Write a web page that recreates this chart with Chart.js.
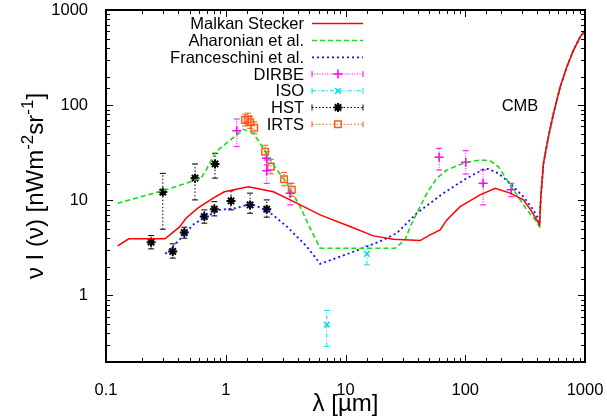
<!DOCTYPE html>
<html><head><meta charset="utf-8">
<script src="https://cdn.jsdelivr.net/npm/chart.js@4.4.0/dist/chart.umd.min.js"></script>
<style>html,body{margin:0;padding:0;background:#fff}#wrap{position:relative;width:607px;height:420px}#box{position:absolute;left:105px;top:9px;width:481px;height:354px;box-sizing:border-box;border:2px solid #000;pointer-events:none}</style>
</head><body>
<div id="wrap"><canvas id="c" width="607" height="420"></canvas><div id="box"></div></div>
<script>
// ---- data (wavelength in micron, nu I_nu in nW m^-2 sr^-1) ----
const xTickLabels = ['0.1', '1', '10', '100', '1000'];
const yTickLabels = ['1', '10', '100', '1000'];
const xRange = [0.1, 1000];
const yRange = [0.2, 1000];

const cmbX = [428, 450, 495, 546, 621, 706, 802, 912, 1000];
const cmbY = [10.9, 24.5, 46.6, 82.0, 156, 253, 379, 522, 604];

const malkanX = [0.125, 0.155, 0.311, 0.41, 0.466, 0.584, 0.779, 0.973, 1.545, 2.50, 3.92, 6.14, 10.9, 17.1, 25.1, 42.0, 50.9, 61.7, 70.2, 90.6, 133, 178, 237, 306, 360, 417];
const malkanY = [3.32, 3.94, 3.94, 5.22, 6.49, 8.26, 10.5, 12.3, 13.9, 12.3, 9.33, 7.03, 5.30, 4.23, 3.91, 3.78, 4.33, 4.89, 6.23, 8.59, 11.4, 13.4, 11.9, 10.1, 7.61, 5.52];

const aharX = [0.125, 0.298, 0.466, 0.622, 0.684, 0.830, 1.006, 1.236, 1.403, 1.70, 2.06, 2.50, 3.24, 4.18, 5.06, 6.14, 25.9, 31.5, 34.7, 40.7, 47.8, 57.9, 70.2, 87.7, 103, 133, 161, 189, 223, 270, 327, 384, 417];
const aharY = [9.32, 12.6, 15.1, 17.1, 20.8, 32.4, 39.7, 48.5, 55.7, 50.6, 35.2, 23.5, 15.1, 8.59, 5.10, 3.14, 3.14, 3.84, 5.30, 7.93, 11.9, 17.1, 20.8, 23.5, 25.1, 26.5, 26.1, 22.6, 16.4, 11.4, 7.93, 6.23, 5.30];

const franX = [0.313, 0.437, 0.530, 0.684, 0.885, 1.219, 1.596, 2.20, 3.24, 4.75, 6.14, 10.9, 15.1, 20.7, 26.8, 32.5, 39.4, 50.9, 65.8, 79.8, 103, 142, 156, 189, 237, 306, 371, 417];
const franY = [2.74, 4.16, 5.52, 6.75, 7.93, 8.26, 9.17, 7.93, 5.30, 3.27, 2.15, 2.79, 3.27, 3.84, 4.52, 5.75, 7.32, 9.33, 11.9, 13.9, 17.1, 21.2, 21.4, 19.2, 15.1, 10.9, 7.93, 5.98];

const dirbeX  = [1.236, 2.2, 2.2, 3.45, 60.5, 101, 141, 242];
const dirbeY  = [53.9, 27.7, 20.5, 11.9, 28.3, 25.1, 15.1, 12.9];
const dirbeLo = [36.6, 23.5, 15.1, 8.95, 20.8, 18.9, 8.95, 10.9];
const dirbeHi = [71.5, 32.4, 26.5, 15.1, 35.2, 33.2, 20.8, 15.1];

const isoX  = [6.98, 15.1];
const isoY  = [0.493, 2.74];
const isoLo = [0.292, 2.10];
const isoHi = [0.696, 3.32];

const hstX  = [0.238, 0.298, 0.361, 0.451, 0.554, 0.662, 0.803, 0.814, 1.107, 1.596, 2.20];
const hstY  = [3.63, 12.2, 2.90, 4.58, 17.1, 6.75, 8.07, 24.1, 9.86, 8.95, 8.07];
const hstLo = [3.09, 4.97, 2.47, 4.00, 10.1, 5.75, 6.86, 17.1, 7.93, 7.32, 6.65];
const hstHi = [4.26, 19.2, 3.49, 5.22, 24.1, 7.93, 9.69, 31.2, 12.6, 11.9, 10.1];

const irtsX  = [1.45, 1.53, 1.60, 1.73, 2.13, 2.38, 3.07, 3.56];
const irtsY  = [69.8, 71.3, 66.0, 57.8, 32.4, 22.6, 16.7, 12.9];
const irtsLo = [60.5, 61.7, 57.0, 50.0, 27.7, 19.0, 14.2, 11.0];
const irtsHi = [80.5, 82.4, 76.3, 66.8, 37.9, 26.9, 19.6, 15.1];

// ---- helpers ----
const pts = (xs, ys) => xs.map((x, i) => ({x: x, y: ys[i]}));
const FONT = '"Liberation Sans", Arial, Helvetica, sans-serif';
function isPow10(v){ const l = Math.log10(v); return Math.abs(l - Math.round(l)) < 1e-6; }

const COL = {red:'#ff0000', green:'#18dc18', blue:'#1010ff', mag:'#ff00ff', cyan:'#00dde8', black:'#000000', orange:'#ff5a1a'};

// frame outline built from the axis limits
const framePts = [
  {x:xRange[0], y:yRange[0]}, {x:xRange[1], y:yRange[0]},
  {x:xRange[1], y:yRange[1]}, {x:xRange[0], y:yRange[1]}, {x:xRange[0], y:yRange[0]}
];

const datasets = [
  {label:'Malkan Stecker', data: pts(malkanX.concat(cmbX), malkanY.concat(cmbY)), showLine:true, borderColor:COL.red, borderWidth:1.5, pointRadius:0, _dash:[], _key:true},
  {label:'Aharonian et al.', data: pts(aharX.concat(cmbX), aharY.concat(cmbY)), showLine:true, borderColor:COL.green, borderWidth:1.6, borderDash:[5,3], pointRadius:0, _dash:[5,3], _key:true},
  {label:'Franceschini et al.', data: pts(franX.concat(cmbX), franY.concat(cmbY)), showLine:true, borderColor:COL.blue, borderWidth:1.8, borderDash:[2,3], pointRadius:0, _dash:[2,3], _key:true},
  {label:'DIRBE', data: pts(dirbeX, dirbeY), errLo: dirbeLo, errHi: dirbeHi, showLine:false, borderColor:COL.mag, backgroundColor:COL.mag, pointStyle:'cross', pointRadius:4.5, borderWidth:1.5, _dash:[1,1.5], _key:true},
  {label:'ISO', data: pts(isoX, isoY), errLo: isoLo, errHi: isoHi, showLine:false, borderColor:COL.cyan, backgroundColor:COL.cyan, pointStyle:'crossRot', pointRadius:4, borderWidth:1.5, _dash:[4,2,1,2], _key:true},
  {label:'HST', data: pts(hstX, hstY), errLo: hstLo, errHi: hstHi, showLine:false, borderColor:COL.black, backgroundColor:COL.black, pointStyle:'star', pointRadius:4.5, borderWidth:2, _dash:[1.5,2], _key:true},
  {label:'IRTS', data: pts(irtsX, irtsY), errLo: irtsLo, errHi: irtsHi, showLine:false, borderColor:COL.orange, backgroundColor:'rgba(0,0,0,0)', pointStyle:'rect', pointRadius:4.6, borderWidth:1.5, _dash:[1.5,2], _key:true},
  {label:'frame', data: framePts, showLine:true, borderColor:'#000', borderWidth:2, pointRadius:0, clip:false, _key:false}
];

// error bars drawn through the scales
const errorBars = {
  id:'errorBars',
  beforeDatasetsDraw(chart){
    const ctx = chart.ctx, xs = chart.scales.x, ys = chart.scales.y;
    chart.data.datasets.forEach(ds => {
      if (!ds.errLo) return;
      ctx.save();
      ctx.strokeStyle = ds.borderColor; ctx.lineWidth = 1;
      ds.data.forEach((p, i) => {
        const px = xs.getPixelForValue(p.x);
        const yl = ys.getPixelForValue(ds.errLo[i]);
        const yh = ys.getPixelForValue(ds.errHi[i]);
        ctx.setLineDash(ds._dash);
        ctx.beginPath(); ctx.moveTo(px, yl); ctx.lineTo(px, yh); ctx.stroke();
        ctx.setLineDash([]);
        ctx.beginPath();
        ctx.moveTo(px-3, yl); ctx.lineTo(px+3, yl);
        ctx.moveTo(px-3, yh); ctx.lineTo(px+3, yh);
        ctx.stroke();
      });
      ctx.restore();
    });
  }
};

// titles, legend, label, inward ticks
const decor = {
  id:'decor',
  afterDraw(chart){
    const ctx = chart.ctx, a = chart.chartArea;
    ctx.save();
    ctx.setLineDash([]);
    ctx.fillStyle = '#000';
    ctx.font = '24px ' + FONT;
    ctx.textAlign = 'center'; ctx.textBaseline = 'alphabetic';
    ctx.fillText('\u03bb [\u00b5m]', (a.left + a.right)/2, 411);

    const parts = [['\u03bd I (\u03bd) [nWm', 0], ['-2', 1], ['sr', 0], ['-1', 1], [']', 0]];
    const big = '24px ' + FONT, small = '17px ' + FONT;
    let total = 0;
    parts.forEach(p => { ctx.font = p[1] ? small : big; total += ctx.measureText(p[0]).width; });
    ctx.save();
    ctx.translate(43, (a.top + a.bottom)/2);
    ctx.rotate(-Math.PI/2);
    ctx.textAlign = 'left';
    let cx = -total/2;
    parts.forEach(p => {
      ctx.font = p[1] ? small : big;
      ctx.fillText(p[0], cx, p[1] ? -10 : 0);
      cx += ctx.measureText(p[0]).width;
    });
    ctx.restore();

    ctx.font = '16.5px ' + FONT;
    ctx.textAlign = 'center'; ctx.textBaseline = 'middle'; ctx.fillStyle = '#000';
    ctx.fillText('CMB', 520, 106);

    const rowY = [23.5, 40.5, 57.3, 74, 90.8, 107.5, 124.3];
    const tx = 304, l0 = 312, l1 = 363, mid = 338;
    chart.data.datasets.filter(ds => ds._key).forEach((ds, i) => {
      const y = rowY[i];
      ctx.font = '16.5px ' + FONT;
      ctx.textAlign = 'right'; ctx.textBaseline = 'middle'; ctx.fillStyle = '#000';
      ctx.fillText(ds.label, tx, y + 1);
      ctx.strokeStyle = ds.borderColor;
      ctx.lineWidth = ds.errLo ? 1 : ds.borderWidth;
      ctx.setLineDash(ds._dash);
      ctx.beginPath(); ctx.moveTo(l0, y); ctx.lineTo(l1, y); ctx.stroke();
      ctx.setLineDash([]);
      if (ds.errLo) {
        ctx.beginPath();
        ctx.moveTo(l0, y-3); ctx.lineTo(l0, y+3);
        ctx.moveTo(l1, y-3); ctx.lineTo(l1, y+3);
        ctx.stroke();
        ctx.lineWidth = ds.borderWidth;
        ctx.fillStyle = ds.backgroundColor;
        Chart.helpers.drawPoint(ctx, {pointStyle: ds.pointStyle, radius: ds.pointRadius, borderWidth: ds.borderWidth, rotation: 0}, mid, y);
      }
    });

    // inward ticks on all four sides
    const xs = chart.scales.x, ys = chart.scales.y;
    ctx.strokeStyle = '#000'; ctx.lineWidth = 1;
    ctx.beginPath();
    xs.ticks.forEach(t => {
      const px = Math.round(xs.getPixelForValue(t.value)) + 0.5;
      const len = isPow10(t.value) ? 7 : 4;
      ctx.moveTo(px, a.bottom); ctx.lineTo(px, a.bottom - len);
      ctx.moveTo(px, a.top); ctx.lineTo(px, a.top + len);
    });
    ys.ticks.forEach(t => {
      const py = Math.round(ys.getPixelForValue(t.value)) + 0.5;
      const len = isPow10(t.value) ? 7 : 4;
      ctx.moveTo(a.left, py); ctx.lineTo(a.left + len, py);
      ctx.moveTo(a.right, py); ctx.lineTo(a.right - len, py);
    });
    ctx.stroke();
    ctx.restore();
  }
};

function zeroPad(s){ s.paddingLeft = 0; s.paddingRight = 0; s.paddingTop = 0; s.paddingBottom = 0; }

new Chart(document.getElementById('c'), {
  type:'scatter',
  data:{datasets: datasets},
  options:{
    responsive:false, animation:false, devicePixelRatio:1,
    layout:{padding:{left:0, right:22, top:10, bottom:0}},
    plugins:{legend:{display:false}, tooltip:{enabled:false}},
    elements:{line:{tension:0}},
    scales:{
      x:{type:'logarithmic', min:xRange[0], max:xRange[1],
         grid:{display:false}, border:{display:true, color:'#000', width:2},
         afterFit(s){ s.height = 58; zeroPad(s); },
         ticks:{autoSkip:false, maxRotation:0, padding:11, color:'#000', font:{family:FONT, size:16.5},
                callback(v){ const l = Math.round(Math.log10(v)); return isPow10(v) ? xTickLabels[l + 1] : ''; }}},
      y:{type:'logarithmic', min:yRange[0], max:yRange[1],
         grid:{display:false}, border:{display:true, color:'#000', width:2},
         afterFit(s){ s.width = 106; zeroPad(s); },
         ticks:{autoSkip:false, padding:10, color:'#000', font:{family:FONT, size:16.5},
                callback(v){ const l = Math.round(Math.log10(v)); return (isPow10(v) && l >= 0) ? yTickLabels[l] : ''; }}}
    }
  },
  plugins:[errorBars, decor]
});
</script>
</body></html>
